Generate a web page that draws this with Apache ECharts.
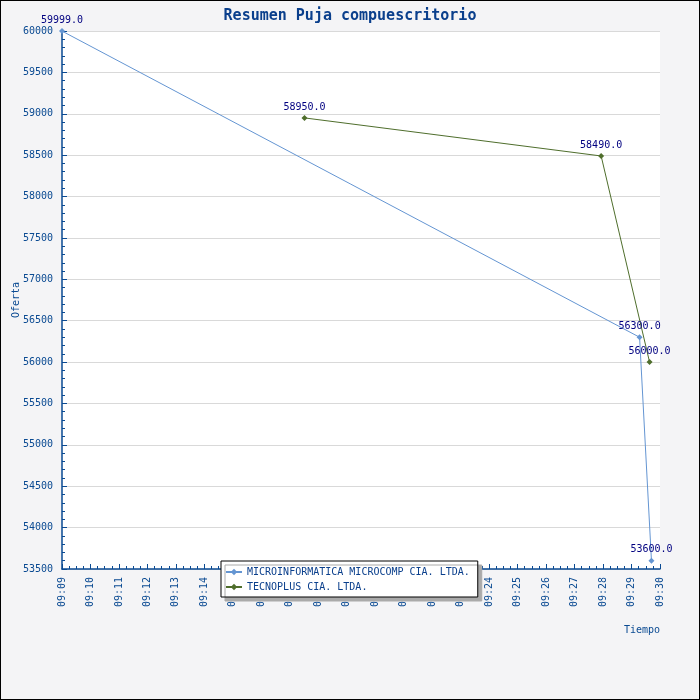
<!DOCTYPE html>
<html lang="es">
<head>
    <meta charset="UTF-8">
    <title>Resumen Puja</title>
    <script src="https://cdn.jsdelivr.net/npm/echarts@6/dist/echarts.min.js"></script>
    <style>
        body { margin: 0; }
        #main { width: 700px; height: 700px; box-sizing: border-box; border: 1px solid #000; background: #f4f4f6; }
    </style>
</head>
<body>
<div id="main"></div>
<script>
    // datos
    var serieNames = ['MICROINFORMATICA MICROCOMP CIA. LTDA.', 'TECNOPLUS CIA. LTDA.'];
    var microTimes = ['09:09:00', '09:29:17', '09:29:42'];
    var microValues = [59999.0, 56300.0, 53600.0];
    var tecnoTimes = ['09:17:31', '09:27:56', '09:29:38'];
    var tecnoValues = [58950.0, 58490.0, 56000.0];

    function toMin(t) {
        var p = t.split(':');
        return (+p[0]) * 60 + (+p[1]) + (+p[2]) / 60;
    }
    function pairs(times, vals) {
        return times.map(function (t, i) { return [toMin(t), vals[i]]; });
    }
    function pad(n) { return (n < 10 ? '0' : '') + n; }

    var font = 'DejaVu Sans Mono';
    var axisColor = '#0a4a92';
    var myChart = echarts.init(document.getElementById('main'));

    var labelCfg = {
        show: true,
        position: 'top',
        distance: 3,
        fontFamily: font,
        fontSize: 10,
        color: '#000080',
        formatter: function (p) { return p.value[1].toFixed(1); }
    };

    var option = {
        backgroundColor: 'transparent',
        textStyle: { fontFamily: font },
        title: {
            text: 'Resumen Puja compuescritorio',
            left: 'center',
            top: 3,
            textStyle: { fontFamily: font, fontSize: 15, fontWeight: 'bold', color: '#0a3f8c' }
        },
        legend: {
            data: serieNames,
            orient: 'vertical',
            left: 220,
            top: 560,
            itemGap: 5,
            itemWidth: 16,
            itemHeight: 8,
            padding: [6, 8, 5, 4],
            backgroundColor: '#fff',
            borderColor: '#000',
            borderWidth: 1,
            borderRadius: 0,
            shadowColor: '#aaa',
            shadowOffsetX: 4,
            shadowOffsetY: 4,
            shadowBlur: 0,
            textStyle: { fontFamily: font, fontSize: 10, color: '#0a3f8c', width: 226 }
        },
        grid: {
            left: 61, right: 39, top: 30, bottom: 130,
            containLabel: false,
            outerBoundsMode: 'none',
            show: true,
            backgroundColor: '#fff',
            borderWidth: 0
        },
        xAxis: {
            type: 'value',
            min: 9 * 60 + 9,
            max: 9 * 60 + 30,
            interval: 1,
            name: 'Tiempo',
            nameLocation: 'end',
            nameGap: 0,
            nameMoveOverlap: false,
            nameTextStyle: { fontFamily: font, fontSize: 10, color: axisColor, align: 'right', verticalAlign: 'top', padding: [56, 0, 0, 0] },
            axisLine: { lineStyle: { color: axisColor, width: 1.5 } },
            axisTick: { inside: true, length: 5, lineStyle: { color: axisColor } },
            minorTick: { show: true, splitNumber: 4, length: 3, lineStyle: { color: axisColor } },
            splitLine: { show: false },
            axisLabel: {
                rotate: 90,
                margin: 8,
                fontFamily: font,
                fontSize: 10,
                color: axisColor,
                formatter: function (v) { return pad(Math.floor(v / 60)) + ':' + pad(Math.round(v % 60)); }
            }
        },
        yAxis: {
            type: 'value',
            min: 53500,
            max: 60000,
            interval: 500,
            name: 'Oferta',
            nameLocation: 'middle',
            nameGap: 41,
            nameMoveOverlap: false,
            nameTextStyle: { fontFamily: font, fontSize: 10, color: axisColor },
            axisLine: { show: true, lineStyle: { color: axisColor, width: 1.5 } },
            axisTick: { show: true, inside: true, length: 5, lineStyle: { color: axisColor } },
            minorTick: { show: true, splitNumber: 5, length: 3, lineStyle: { color: axisColor } },
            splitLine: { show: true, lineStyle: { color: '#d9d9d9' } },
            axisLabel: {
                fontFamily: font, fontSize: 10, color: axisColor, margin: 9,
                formatter: function (v) { return String(v); }
            }
        },
        series: [
            {
                name: serieNames[0],
                type: 'line',
                data: pairs(microTimes, microValues),
                color: '#6495d2',
                symbol: 'diamond',
                symbolSize: 6,
                lineStyle: { width: 1 },
                label: labelCfg
            },
            {
                name: serieNames[1],
                type: 'line',
                data: pairs(tecnoTimes, tecnoValues),
                color: '#4f6e2c',
                symbol: 'diamond',
                symbolSize: 6,
                lineStyle: { width: 1 },
                label: labelCfg
            }
        ]
    };
    myChart.setOption(option);
</script>
</body>
</html>
